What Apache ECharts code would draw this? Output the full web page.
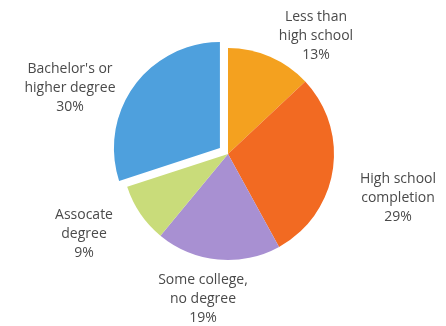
<!DOCTYPE html>
<html>
<head>
<meta charset="utf-8">
<script src="https://cdn.jsdelivr.net/npm/echarts@6/dist/echarts.min.js"></script>
<style>
  html, body { margin: 0; padding: 0; background: #ffffff; }
  #chart { width: 446px; height: 326px; }
</style>
</head>
<body>
<div id="chart"></div>
<script>
// Data
const categories = ["Less than high school", "High school completion", "Some college, no degree", "Assocate degree", "Bachelor's or higher degree"];
const labelTexts = ["Less than\nhigh school", "High school\ncompletion", "Some college,\nno degree", "Assocate\ndegree", "Bachelor's or\nhigher degree"];
const values = [13, 29, 19, 9, 30];
const colors = ["#F4A11F", "#F26A22", "#A890D2", "#C9DC7A", "#4EA0DD"];
const explodedIndex = 4;

// Layout only
const pieCenter = [228, 154];
const pieRadius = 106;
const explodeDist = 10;
const labelPos = [
  [316, 36],
  [398, 198],
  [203, 299],
  [84, 234],
  [70, 88]
];

// Offset of the exploded slice along its mid angle (derived from the data)
const total = values.reduce((a, b) => a + b, 0);
const before = values.slice(0, explodedIndex).reduce((a, b) => a + b, 0);
const midFrac = (before + values[explodedIndex] / 2) / total;
const midAng = midFrac * 2 * Math.PI; // clockwise from top
const explodedCenter = [pieCenter[0] + Math.sin(midAng) * explodeDist, pieCenter[1] - Math.cos(midAng) * explodeDist];

const chart = echarts.init(document.getElementById('chart'), null, { renderer: 'canvas' });

const mainData = categories.map((c, i) => ({
  name: c,
  value: values[i],
  itemStyle: { color: i === explodedIndex ? 'rgba(0,0,0,0)' : colors[i] },
  label: { formatter: labelTexts[i] + '\n' + values[i] + '%' }
}));

const explodedData = categories.map((c, i) => ({
  name: c,
  value: values[i],
  itemStyle: { color: i === explodedIndex ? colors[i] : 'rgba(0,0,0,0)' }
}));

chart.setOption({
  animation: false,
  series: [{
    type: 'pie',
    center: pieCenter,
    radius: [0, pieRadius],
    startAngle: 90,
    clockwise: true,
    silent: true,
    data: mainData,
    itemStyle: { borderWidth: 0 },
    label: {
      show: true,
      position: 'outside',
      alignTo: 'none',
      overflow: 'none',
      width: 200,
      fontFamily: 'Open Sans',
      fontSize: 14,
      lineHeight: 19,
      color: '#4a4a4a',
      align: 'center'
    },
    labelLine: { show: false },
    labelLayout: function (params) {
      const p = labelPos[params.dataIndex];
      return { x: p[0], y: p[1], align: 'center', verticalAlign: 'middle', hideOverlap: false };
    }
  }, {
    type: 'pie',
    center: explodedCenter,
    radius: [0, pieRadius],
    startAngle: 90,
    clockwise: true,
    silent: true,
    data: explodedData,
    itemStyle: { borderWidth: 0 },
    label: { show: false },
    labelLine: { show: false }
  }]
});
</script>
</body>
</html>
